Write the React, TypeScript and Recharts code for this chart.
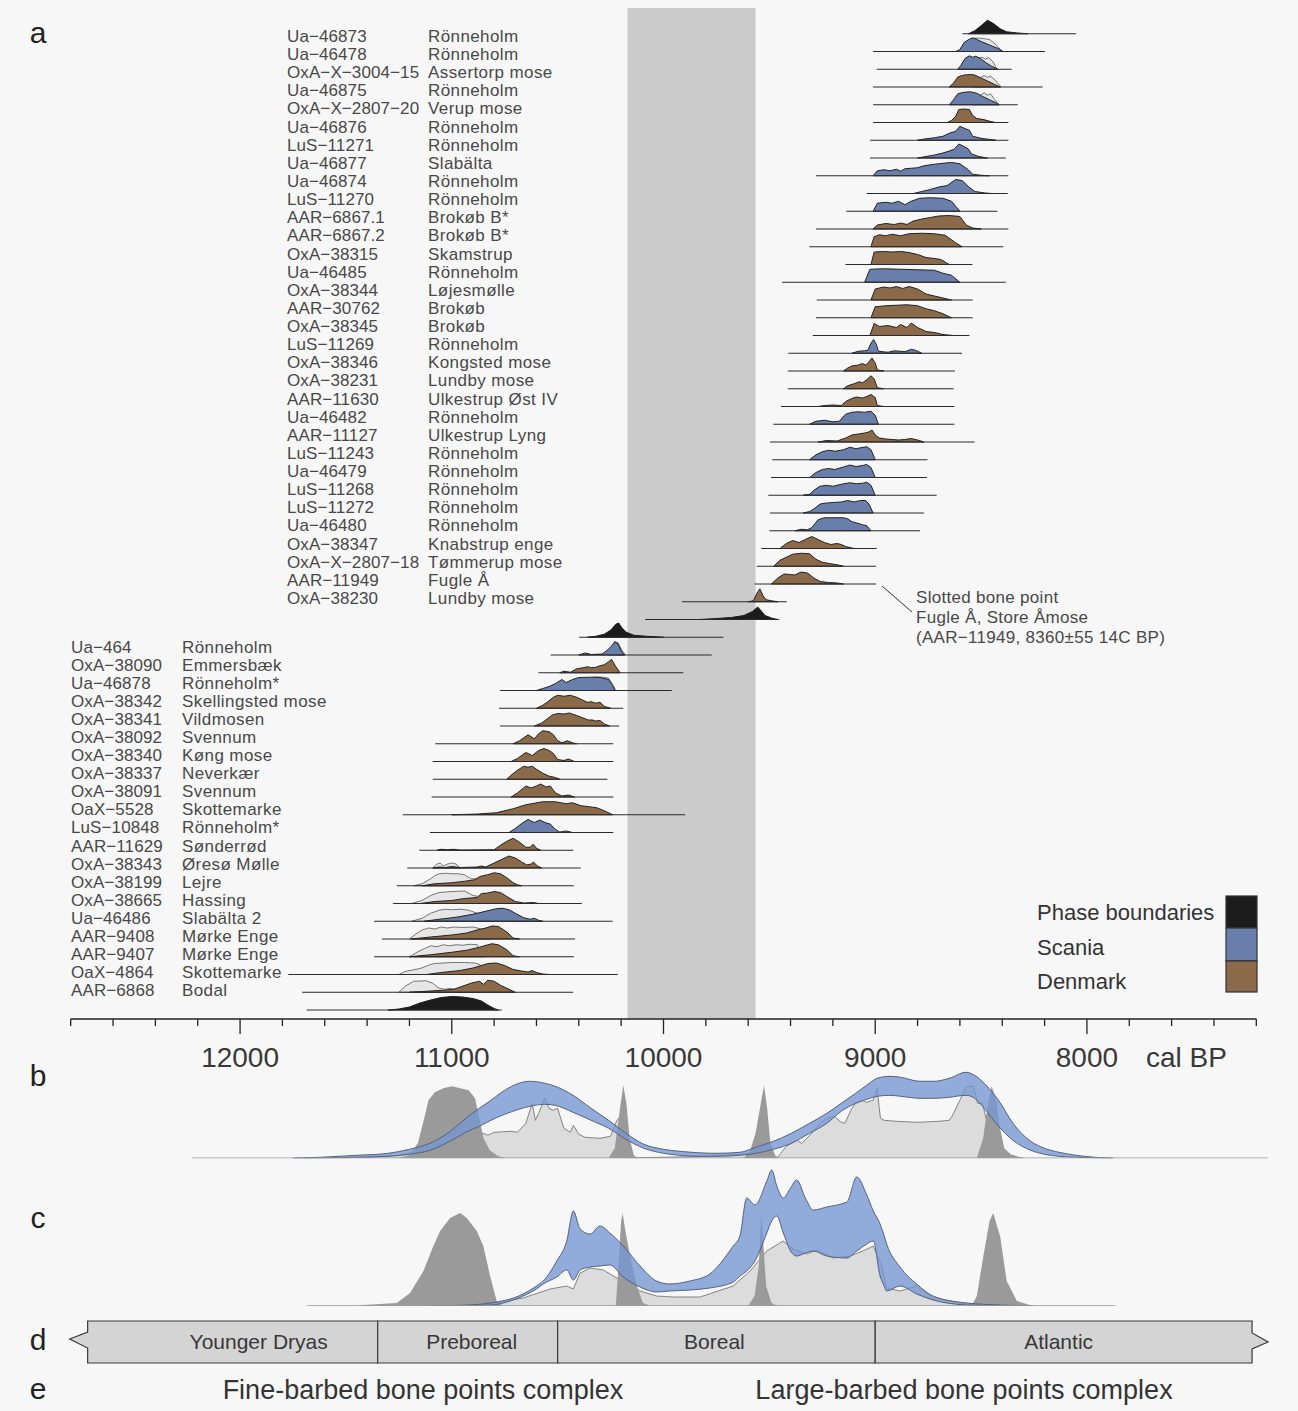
import React from "react";
import { ComposedChart, Area, Line, XAxis, YAxis, ReferenceArea } from "recharts";

type Pt = [number, number];

const FONT = "'Liberation Sans', Arial, sans-serif";

// ---------- panel a : modelled dates ----------
const rowCodes = [
  "", "Ua−46873", "Ua−46478", "OxA−X−3004−15", "Ua−46875", "OxA−X−2807−20", "Ua−46876", "LuS−11271",
  "Ua−46877", "Ua−46874", "LuS−11270", "AAR−6867.1", "AAR−6867.2", "OxA−38315", "Ua−46485", "OxA−38344",
  "AAR−30762", "OxA−38345", "LuS−11269", "OxA−38346", "OxA−38231", "AAR−11630", "Ua−46482", "AAR−11127",
  "LuS−11243", "Ua−46479", "LuS−11268", "LuS−11272", "Ua−46480", "OxA−38347", "OxA−X−2807−18", "AAR−11949",
  "OxA−38230", "", "", "Ua−464", "OxA−38090", "Ua−46878", "OxA−38342", "OxA−38341", "OxA−38092",
  "OxA−38340", "OxA−38337", "OxA−38091", "OaX−5528", "LuS−10848", "AAR−11629", "OxA−38343", "OxA−38199",
  "OxA−38665", "Ua−46486", "AAR−9408", "AAR−9407", "OaX−4864", "AAR−6868", "",
];

const rowSites = [
  "", "Rönneholm", "Rönneholm", "Assertorp mose", "Rönneholm", "Verup mose", "Rönneholm", "Rönneholm",
  "Slabälta", "Rönneholm", "Rönneholm", "Brokøb B*", "Brokøb B*", "Skamstrup", "Rönneholm", "Løjesmølle",
  "Brokøb", "Brokøb", "Rönneholm", "Kongsted mose", "Lundby mose", "Ulkestrup Øst IV", "Rönneholm", "Ulkestrup Lyng",
  "Rönneholm", "Rönneholm", "Rönneholm", "Rönneholm", "Rönneholm", "Knabstrup enge", "Tømmerup mose", "Fugle Å",
  "Lundby mose", "", "", "Rönneholm", "Emmersbæk", "Rönneholm*", "Skellingsted mose", "Vildmosen", "Svennum",
  "Køng mose", "Neverkær", "Svennum", "Skottemarke", "Rönneholm*", "Sønderrød", "Øresø Mølle", "Lejre",
  "Hassing", "Slabälta 2", "Mørke Enge", "Mørke Enge", "Skottemarke", "Bodal", "",
];

// B = phase boundary, S = Scania, D = Denmark
const rowRegion = "BSSDSDSSSSSDDDSDDDSDDDSDSSSSSDDDDBBSDSDDDDDDDSDDDDSDDDDB";

const rowSpan: Pt[] = [
  [8588, 8052], [9010, 8198], [8993, 8355], [9010, 8209], [9010, 8327], [9010, 8371], [9024, 8371], [9024, 8383],
  [9280, 8371], [9040, 8374], [9137, 8423], [9280, 8371], [9311, 8395], [9140, 8541], [9440, 8383], [9276, 8540],
  [9280, 8540], [9295, 8555], [9410, 8590], [9413, 8623], [9413, 8630], [9445, 8626], [9481, 8626], [9497, 8531],
  [9486, 8753], [9492, 8756], [9505, 8710], [9497, 8769], [9500, 8788], [9538, 8993], [9559, 8996], [9570, 8996],
  [9913, 9418], [10087, 9453], [10398, 9717], [10533, 9772], [10591, 9906], [10772, 9961], [10777, 10190], [10772, 10209],
  [11078, 10237], [11090, 10237], [11090, 10265], [11095, 10237], [11232, 9898], [11103, 10237], [11153, 10426], [11210, 10391],
  [11260, 10423], [11277, 10386], [11367, 10240], [11330, 10418], [11367, 10423], [11772, 10216], [11707, 10426], [11685, 10764],
];

const rowDensity: Pt[][] = [
  [[8560, 0], [8530, 3], [8500, 8], [8470, 13.5], [8440, 10], [8410, 5], [8380, 2], [8330, 0.8], [8280, 0]],
  [[8620, 0], [8600, 2], [8580, 9], [8550, 13], [8535, 13.5], [8500, 10], [8460, 6.5], [8420, 3], [8395, 0]],
  [[8610, 0], [8595, 4], [8575, 11], [8555, 13.4], [8540, 12], [8525, 13], [8505, 11], [8480, 7], [8450, 3], [8420, 0]],
  [[8650, 0], [8630, 4], [8610, 10], [8580, 12], [8550, 12.5], [8530, 12], [8500, 9], [8470, 6], [8440, 3], [8410, 0]],
  [[8650, 0], [8630, 5], [8610, 11], [8580, 12.5], [8550, 13], [8520, 11.5], [8490, 8], [8460, 5], [8430, 2], [8415, 0]],
  [[8660, 0], [8640, 2], [8620, 6], [8605, 13], [8580, 13.5], [8555, 13], [8540, 7], [8520, 4], [8490, 3], [8460, 1], [8430, 0]],
  [[8800, 0], [8760, 1.5], [8720, 2.5], [8680, 4], [8650, 7], [8620, 9], [8600, 14], [8580, 12], [8555, 10], [8540, 4], [8500, 2], [8450, 0.5], [8430, 0]],
  [[8800, 0], [8760, 1.5], [8720, 3], [8680, 5], [8650, 7], [8625, 9], [8605, 14], [8585, 12], [8560, 9], [8545, 4], [8510, 1.5], [8470, 0]],
  [[9010, 0], [8990, 5], [8960, 6], [8930, 5], [8900, 6.5], [8880, 4.5], [8860, 7], [8830, 7.5], [8800, 8], [8770, 10], [8720, 11.5], [8680, 12.5], [8640, 13.3], [8600, 12], [8560, 6], [8540, 1.5], [8500, 0.5], [8460, 0]],
  [[8820, 0], [8780, 2], [8740, 4], [8700, 6.5], [8660, 8], [8620, 14], [8590, 13], [8560, 7], [8530, 2], [8480, 0.5], [8450, 0]],
  [[9010, 0], [8990, 8], [8950, 9], [8920, 8], [8890, 10], [8860, 6.5], [8830, 10], [8790, 13], [8740, 13.5], [8680, 13], [8640, 10], [8600, 0]],
  [[9010, 0], [8990, 4], [8950, 5.5], [8910, 4.5], [8880, 6], [8850, 4.5], [8820, 8], [8780, 10], [8740, 11.5], [8700, 13], [8650, 13.5], [8600, 12.5], [8570, 4], [8540, 1], [8500, 0]],
  [[9020, 0], [9005, 10], [8980, 12], [8950, 11], [8920, 12.5], [8880, 11], [8840, 13], [8780, 13.5], [8720, 13], [8670, 11.5], [8620, 4], [8590, 0]],
  [[9020, 0], [9005, 12.5], [8960, 13], [8920, 12.5], [8880, 13], [8840, 12], [8800, 10], [8760, 7], [8720, 6], [8690, 5], [8650, 0]],
  [[9050, 0], [9025, 13], [8960, 13.5], [8880, 13], [8800, 12.5], [8720, 12], [8680, 9], [8640, 7], [8600, 0]],
  [[9020, 0], [9000, 11], [8960, 13], [8930, 12], [8900, 13.5], [8870, 11.5], [8840, 13.5], [8800, 11], [8760, 6], [8720, 4], [8680, 2], [8640, 0]],
  [[9020, 0], [9000, 11], [8950, 12], [8900, 12.5], [8850, 13], [8800, 12], [8760, 9], [8720, 7], [8680, 4], [8640, 0]],
  [[9025, 0], [9005, 12], [8980, 9], [8940, 10], [8900, 8], [8880, 11], [8850, 8], [8830, 12.5], [8800, 8], [8760, 4], [8720, 3], [8680, 1], [8630, 0]],
  [[9110, 0], [9080, 2], [9050, 2.5], [9035, 3], [9020, 10], [9008, 13.7], [8995, 9], [8985, 2], [8940, 1], [8910, 2.5], [8880, 2], [8860, 1.5], [8830, 4], [8810, 3], [8780, 0]],
  [[9150, 0], [9130, 3], [9110, 5], [9080, 6], [9060, 7.5], [9045, 6], [9030, 9], [9015, 13], [9000, 8], [8990, 1], [8960, 0]],
  [[9150, 0], [9130, 3], [9100, 5], [9075, 7], [9060, 6], [9040, 9], [9020, 13], [9005, 10], [8990, 1], [8960, 0]],
  [[9270, 0], [9240, 1], [9200, 1.5], [9160, 1], [9140, 5], [9110, 8], [9090, 9.5], [9060, 8.5], [9040, 10], [9020, 12], [9000, 9], [8990, 1], [8960, 0]],
  [[9310, 0], [9280, 3], [9240, 4], [9200, 2.5], [9170, 3], [9140, 10], [9110, 12], [9080, 12.5], [9050, 12], [9020, 13], [9000, 9], [8985, 0]],
  [[9270, 0], [9230, 1.5], [9180, 1], [9140, 4], [9110, 7], [9080, 8], [9050, 9], [9030, 10], [9015, 12], [9000, 7], [8980, 4], [8950, 3], [8920, 2.5], [8890, 2], [8860, 2.5], [8830, 3.5], [8800, 2], [8770, 0]],
  [[9310, 0], [9280, 5], [9250, 8], [9220, 9.5], [9190, 8.5], [9150, 10], [9120, 12.5], [9090, 11], [9070, 12], [9040, 13], [9020, 10], [9000, 0]],
  [[9310, 0], [9280, 5], [9250, 8], [9220, 9], [9190, 8], [9150, 10.5], [9120, 12.5], [9090, 11], [9060, 12], [9040, 13], [9020, 10], [9000, 0]],
  [[9340, 0], [9310, 1], [9290, 5], [9260, 9], [9230, 10], [9200, 9], [9160, 11], [9120, 12.5], [9090, 11.5], [9060, 12], [9040, 13], [9020, 10], [9000, 0]],
  [[9340, 0], [9310, 1.5], [9290, 4], [9260, 9], [9230, 10], [9200, 10.5], [9160, 11], [9130, 12.5], [9100, 11], [9070, 12.5], [9045, 12.5], [9030, 9], [9010, 0]],
  [[9380, 0], [9350, 1.5], [9320, 1], [9300, 3], [9270, 11], [9240, 13], [9200, 13], [9150, 13], [9130, 12], [9110, 9], [9090, 8], [9060, 6], [9040, 5], [9020, 0]],
  [[9450, 0], [9420, 5], [9390, 8], [9360, 6], [9330, 9], [9300, 12], [9270, 9], [9240, 6], [9210, 4], [9180, 5], [9160, 4], [9140, 2], [9100, 0]],
  [[9480, 0], [9450, 6], [9420, 9], [9390, 12], [9350, 13], [9310, 12.5], [9280, 7], [9250, 4], [9210, 2.5], [9180, 1.5], [9150, 0]],
  [[9490, 0], [9460, 6], [9430, 10], [9400, 9.5], [9380, 9], [9350, 12], [9320, 11], [9290, 6], [9260, 2.5], [9220, 1.5], [9180, 1], [9150, 0]],
  [[9600, 0], [9575, 1], [9560, 8], [9545, 13], [9530, 6], [9515, 2], [9490, 1], [9460, 0]],
  [[9830, 0], [9750, 1], [9680, 2], [9620, 4], [9580, 8], [9555, 12.5], [9540, 9], [9520, 4], [9490, 1.5], [9460, 0]],
  [[10360, 0], [10320, 1], [10280, 3], [10250, 7], [10225, 13], [10212, 14.3], [10195, 9], [10175, 5], [10140, 2], [10080, 1], [10000, 0]],
  [[10400, 0], [10370, 2], [10340, 0.5], [10290, 1], [10270, 4], [10245, 9], [10230, 13.3], [10215, 11], [10200, 4], [10185, 0]],
  [[10490, 0], [10470, 1.5], [10440, 0.5], [10410, 4], [10380, 5], [10360, 6], [10340, 5], [10320, 5.5], [10300, 7], [10280, 8], [10260, 11], [10245, 13.3], [10225, 6], [10205, 0]],
  [[10600, 0], [10570, 2], [10540, 4], [10510, 7], [10480, 11], [10460, 8], [10430, 11], [10400, 13], [10340, 13.3], [10300, 13], [10260, 11], [10240, 5], [10230, 0]],
  [[10600, 0], [10570, 3], [10550, 6], [10520, 11], [10500, 13], [10470, 12], [10440, 13], [10410, 11], [10380, 8], [10360, 6], [10340, 6.5], [10320, 5], [10300, 6], [10280, 2], [10250, 0]],
  [[10610, 0], [10575, 3], [10550, 7], [10525, 11], [10500, 12.5], [10470, 12], [10445, 13], [10410, 10.5], [10380, 8], [10355, 6], [10335, 6], [10320, 5], [10300, 5.5], [10280, 2], [10255, 0]],
  [[10710, 0], [10680, 3], [10640, 9], [10610, 5], [10590, 10], [10570, 13], [10540, 12], [10520, 9], [10500, 3], [10480, 1], [10455, 3], [10430, 1], [10410, 0]],
  [[10720, 0], [10690, 3], [10650, 9], [10620, 6], [10590, 11], [10565, 13], [10540, 11], [10520, 8], [10500, 2], [10470, 1], [10450, 2.5], [10420, 0]],
  [[10740, 0], [10720, 4], [10690, 9], [10660, 13], [10640, 12], [10620, 13], [10600, 10], [10570, 6], [10540, 3], [10515, 2], [10490, 0]],
  [[10720, 0], [10690, 4], [10650, 11], [10625, 9], [10600, 11], [10580, 13], [10555, 10], [10535, 11], [10510, 4], [10480, 1], [10450, 2], [10420, 0]],
  [[11000, 0], [10880, 0.7], [10790, 2], [10710, 6], [10650, 10], [10570, 13], [10510, 13], [10460, 11], [10430, 12], [10390, 9], [10350, 8], [10315, 7], [10280, 4], [10240, 0]],
  [[10730, 0], [10700, 4], [10670, 9], [10640, 13], [10610, 10], [10585, 12.5], [10560, 10], [10535, 8.5], [10510, 3], [10490, 0.5], [10460, 1.5], [10430, 0]],
  [[11070, 0], [11050, 1], [11020, 0.5], [10990, 1], [10960, 0], [10800, 0.5], [10770, 5], [10740, 9], [10710, 12], [10680, 8], [10650, 3], [10630, 3], [10615, 6], [10600, 2], [10580, 0]],
  [[11090, 0], [11060, 1], [11030, 0.5], [11000, 1.5], [10960, 0.5], [10880, 1], [10860, 2], [10840, 1], [10800, 5], [10760, 9], [10730, 12], [10700, 10], [10670, 6], [10645, 3], [10625, 4], [10615, 6], [10595, 2], [10575, 0]],
  [[11140, 0], [11080, 2], [11000, 3], [10940, 4.5], [10890, 6], [10870, 9], [10855, 10], [10830, 11], [10800, 13], [10770, 12], [10740, 8], [10710, 3], [10690, 1], [10670, 0]],
  [[11150, 0], [11080, 2], [11000, 3], [10940, 5], [10880, 6], [10860, 10], [10830, 10.5], [10800, 12], [10770, 11], [10740, 7], [10700, 2], [10660, 0.5], [10615, 1], [10590, 0]],
  [[11130, 0], [11060, 2], [10980, 4], [10900, 7], [10840, 10], [10790, 12.5], [10760, 13], [10730, 11.5], [10700, 8], [10660, 3.5], [10630, 2], [10610, 3], [10590, 1], [10570, 0]],
  [[11190, 0], [11100, 2], [11000, 4], [10930, 6], [10880, 9], [10840, 11], [10810, 13], [10780, 12.5], [10740, 7], [10710, 1], [10680, 0]],
  [[11200, 0], [11100, 2], [11000, 4.5], [10930, 6.5], [10870, 9.5], [10830, 12], [10810, 13], [10780, 12], [10740, 7], [10710, 1], [10680, 0]],
  [[11120, 0], [11050, 2], [10960, 4], [10900, 6.5], [10860, 9], [10830, 11], [10790, 11.5], [10750, 9], [10710, 5], [10670, 3.5], [10640, 2.5], [10620, 4], [10600, 2], [10570, 0.5], [10540, 0]],
  [[11200, 0], [11120, 1], [11040, 2], [10990, 3], [10950, 6], [10910, 9], [10890, 10], [10870, 11], [10850, 8], [10830, 12], [10800, 11], [10770, 7], [10730, 3], [10700, 0]],
  [[11300, 0], [11250, 1], [11200, 3], [11150, 7], [11100, 10], [11050, 12.5], [11000, 13.5], [10950, 13], [10900, 11.5], [10860, 9], [10830, 5], [10800, 1.5], [10780, 0]],
];

// unmodelled (prior) distributions shown in light grey behind some rows
const rowUnmodelled: Record<number, Pt[]> = {
  1: [[8570, 0], [8545, 13], [8520, 13.5], [8490, 13], [8460, 12], [8430, 7], [8400, 0]],
  2: [[8540, 0], [8510, 11], [8495, 12], [8480, 10], [8465, 11.5], [8445, 8], [8425, 0]],
  3: [[8540, 0], [8500, 10], [8485, 11.5], [8470, 9.5], [8455, 11], [8430, 6], [8405, 0]],
  4: [[8540, 0], [8500, 10], [8485, 12], [8470, 9.5], [8455, 11], [8435, 5], [8415, 0]],
  5: [[8520, 0], [8500, 3], [8480, 2.5], [8460, 1.5], [8440, 0]],
  35: [[10260, 0], [10232, 13], [10215, 12.5], [10200, 6], [10180, 0]],
  37: [[10360, 0], [10330, 13.6], [10290, 13.4], [10260, 12.5], [10240, 6], [10225, 0]],
  47: [[11090, 0], [11070, 4], [11055, 5], [11040, 2], [11020, 4], [11000, 5], [10980, 4], [10960, 0]],
  48: [[11180, 0], [11140, 2], [11100, 7], [11080, 10], [11060, 12], [11030, 12.5], [11000, 12], [10970, 12], [10940, 11], [10910, 7], [10880, 7], [10820, 6], [10760, 3], [10700, 0]],
  49: [[11190, 0], [11140, 3], [11100, 8], [11060, 11], [11000, 12], [10940, 12.5], [10900, 8], [10870, 7], [10800, 5], [10740, 2], [10700, 0]],
  50: [[11190, 0], [11140, 3], [11100, 8], [11060, 11], [11030, 12], [11000, 11.5], [10960, 12], [10920, 11], [10880, 8], [10840, 6], [10780, 3], [10740, 0]],
  51: [[11200, 0], [11170, 5], [11140, 9], [11110, 11], [11080, 10], [11050, 12], [11020, 11], [10990, 12], [10950, 11.5], [10900, 12], [10860, 10], [10820, 0]],
  52: [[11200, 0], [11160, 5], [11130, 8], [11100, 11], [11070, 10], [11040, 12], [11010, 11], [10980, 12], [10950, 11.5], [10910, 12.5], [10880, 12], [10850, 0]],
  53: [[11250, 0], [11220, 3], [11150, 6], [11100, 10], [11080, 11], [11000, 12], [10940, 12], [10890, 11.5], [10860, 9], [10800, 0]],
  54: [[11250, 0], [11220, 6], [11180, 11], [11120, 11.5], [11090, 9], [11060, 4], [11030, 3], [11010, 4], [10990, 3], [10960, 3.5], [10920, 2], [10860, 0]],
};

const greyBand: Pt = [10170, 9565];
const xTicks = [12800, 12600, 12400, 12200, 12000, 11800, 11600, 11400, 11200, 11000, 10800, 10600, 10400, 10200,
  10000, 9800, 9600, 9400, 9200, 9000, 8800, 8600, 8400, 8200, 8000, 7800, 7600, 7400, 7200];

// ---------- panel b ----------
const bPhase: Pt[] = [
  [11260, 0], [11200, 3], [11160, 15], [11130, 40], [11110, 58], [11080, 66], [11040, 70], [11000, 72], [10960, 70],
  [10920, 68], [10890, 60], [10870, 40], [10850, 20], [10820, 8], [10780, 2], [10740, 0],
  [10260, 0], [10230, 10], [10205, 50], [10190, 73], [10175, 55], [10160, 20], [10140, 3], [10120, 0],
  [9620, 0], [9590, 8], [9565, 25], [9540, 55], [9525, 73], [9510, 50], [9495, 15], [9470, 2], [9450, 0],
  [8520, 0], [8490, 20], [8470, 50], [8450, 72], [8430, 60], [8410, 30], [8390, 10], [8360, 4], [8300, 0],
];
const bSum: Pt[] = [
  [11700, 0], [11400, 1], [11250, 3], [11150, 8], [11050, 14], [10950, 20], [10880, 22], [10850, 25], [10830, 23],
  [10800, 26], [10720, 27], [10690, 26], [10650, 35], [10620, 55], [10605, 38], [10590, 45], [10560, 60], [10540, 50],
  [10520, 48], [10500, 50], [10470, 30], [10440, 26], [10425, 33], [10400, 24], [10370, 21], [10300, 20], [10250, 22],
  [10220, 38], [10210, 40], [10195, 25], [10180, 3], [10160, 0.5], [10000, 1], [9800, 2], [9650, 4], [9580, 5],
  [9540, 20], [9525, 45], [9510, 15], [9490, 2], [9460, 1], [9420, 12], [9396, 15], [9370, 18], [9346, 15],
  [9300, 25], [9260, 35], [9228, 40], [9193, 42], [9160, 36], [9143, 35], [9110, 50], [9092, 55], [9060, 58],
  [9041, 56], [9010, 58], [8991, 70], [8975, 40], [8957, 38], [8900, 37], [8800, 36], [8700, 37], [8650, 38],
  [8637, 42], [8602, 57], [8569, 72], [8535, 72], [8515, 55], [8493, 55], [8476, 40], [8460, 50], [8440, 35],
  [8417, 20], [8400, 8], [8366, 2], [8300, 0],
];
// [year, lower, upper]
const bBand: [number, number, number][] = [
  [11750, 0, 0], [11600, 0.3, 1.2], [11450, 1, 3], [11300, 2, 5], [11200, 4, 9], [11103, 8, 15], [11000, 18, 28],
  [10933, 26, 40], [10870, 32, 50], [10815, 38, 58], [10750, 44, 68], [10683, 49, 75], [10631, 52, 77], [10560, 54, 75],
  [10512, 53, 72], [10427, 46, 63], [10342, 38, 50], [10259, 30, 38], [10177, 19, 25], [10092, 10, 14], [10000, 5, 9],
  [9922, 3, 7], [9830, 2, 5.5], [9752, 2, 5], [9639, 3, 6], [9564, 5, 11], [9480, 9, 17], [9396, 15, 25], [9310, 25, 35],
  [9228, 35, 45], [9160, 47, 55], [9092, 55, 65], [9040, 59, 73], [8991, 62, 80], [8930, 63, 82], [8880, 62, 81],
  [8788, 60, 77], [8720, 60, 77], [8650, 61, 80], [8571, 63, 86], [8530, 60, 83], [8485, 50, 75], [8417, 32, 58],
  [8349, 18, 35], [8265, 8, 17], [8200, 4, 10], [8131, 2, 6], [8050, 1, 3], [7961, 0.3, 1], [7876, 0, 0],
];
const bBaseSpan: Pt = [12227, 7145];

// ---------- panel c ----------
const cPhase: Pt[] = [
  [11450, 0], [11418, 1], [11260, 3], [11197, 13], [11134, 35], [11087, 60], [11055, 75], [11008, 88], [10961, 93],
  [10929, 88], [10882, 75], [10851, 60], [10819, 30], [10788, 5], [10758, 0],
  [10225, 0], [10213, 40], [10200, 85], [10193, 93], [10180, 75], [10158, 50], [10126, 20], [10097, 3], [10060, 0],
  [9600, 0], [9570, 10], [9550, 40], [9538, 93], [9528, 60], [9515, 20], [9490, 3], [9460, 0],
  [8545, 0], [8520, 10], [8489, 50], [8460, 85], [8442, 93], [8425, 80], [8410, 70], [8379, 25], [8331, 5], [8254, 0],
];
const cSum: Pt[] = [
  [11300, 0], [11089, 0.5], [10819, 2], [10663, 8], [10536, 17], [10457, 20], [10426, 17], [10394, 33], [10347, 38],
  [10284, 36], [10190, 24], [10111, 15], [10033, 10], [9954, 9], [9827, 9], [9671, 20], [9591, 35], [9512, 55],
  [9435, 65], [9388, 57], [9323, 52], [9276, 56], [9199, 48], [9119, 50], [9058, 55], [9009, 60], [8969, 40],
  [8946, 18], [8883, 15], [8804, 20], [8727, 8], [8646, 5], [8568, 2], [8410, 0.5], [8300, 0],
];
const cBand: [number, number, number][] = [
  [11100, 0, 0], [10977, 0.2, 0.5], [10819, 1, 3], [10663, 10, 12], [10600, 17, 20], [10568, 22, 25], [10504, 29, 45],
  [10457, 36, 65], [10426, 26, 95], [10394, 36, 77], [10347, 39, 72], [10300, 40, 80], [10253, 41, 73], [10190, 29, 60],
  [10111, 19, 40], [10033, 14, 25], [9971, 15, 22], [9875, 16, 25], [9781, 18, 32], [9671, 24, 60], [9639, 30, 70],
  [9607, 35, 108], [9568, 45, 101], [9512, 73, 125], [9489, 85, 136], [9465, 90, 120], [9434, 73, 108], [9400, 55, 118],
  [9371, 50, 126], [9330, 53, 108], [9292, 55, 96], [9229, 50, 99], [9134, 48, 104], [9087, 55, 129], [9040, 62, 111],
  [9009, 65, 95], [8977, 30, 82], [8962, 22, 73], [8946, 15, 62], [8883, 20, 39], [8804, 12, 22], [8727, 6, 10],
  [8568, 1, 3], [8410, 0, 1], [8254, 0, 0],
];
const cBaseSpan: Pt = [11685, 7865];

// ---------- panels d, e ----------
const periodNames = ["Younger Dryas", "Preboreal", "Boreal", "Atlantic"];
const periodBounds = [12720, 11350, 10500, 9000, 7220];
const complexNames = ["Fine-barbed bone points complex", "Large-barbed bone points complex"];
const legendNames = ["Phase boundaries", "Scania", "Denmark"];

const FILLS: Record<string, string> = { B: "#1c1c1c", S: "#6a7eab", D: "#8b6a49" };
const ROW_STEP = 17.75;

const toRange = (pts: Pt[], base: number) => pts.map(([year, h]) => ({ year, r: [base, base + h] }));
const toVal = (pts: Pt[]) => pts.map(([year, v]) => ({ year, v }));
const toBand = (pts: [number, number, number][]) => pts.map(([year, lo, hi]) => ({ year, r: [lo, hi] }));

const AxisTick = (props: any) => {
  const { x, y, payload } = props;
  const v = payload.value as number;
  const major = v % 1000 === 0;
  return (
    <g>
      <line x1={x} x2={x} y1={y} y2={y + (major ? 15 : 7)} stroke="#222" strokeWidth={1.3} />
      {major && (
        <text x={x} y={y + 48} textAnchor="middle" fontSize={28} fill="#383838" fontFamily={FONT}>
          {v}
        </text>
      )}
      {v === 8000 && (
        <text x={x + 59} y={y + 48} textAnchor="start" fontSize={28} fill="#383838" fontFamily={FONT}>
          cal BP
        </text>
      )}
    </g>
  );
};

function ChartA() {
  return (
    <ComposedChart width={1298} height={1085} margin={{ top: 8, right: 41.7, bottom: 6, left: 70.7 }}>
      <XAxis
        type="number"
        dataKey="year"
        domain={[7200, 12800]}
        reversed
        allowDataOverflow
        ticks={xTicks}
        interval={0}
        tick={<AxisTick />}
        tickLine={false}
        tickSize={0}
        tickMargin={0}
        height={60}
        axisLine={{ stroke: "#222", strokeWidth: 1.3 }}
      />
      <YAxis type="number" hide width={0} domain={[-9, 1002]} allowDataOverflow />
      <ReferenceArea x1={greyBand[0]} x2={greyBand[1]} fill="#cbcbcb" fillOpacity={1} stroke="none" />
      {rowDensity.map((pts, k) => {
        const base = (55 - k) * ROW_STEP;
        const reg = rowRegion[k];
        const items = [
          <Line
            key={`l${k}`}
            data={[{ year: rowSpan[k][0], v: base }, { year: rowSpan[k][1], v: base }]}
            dataKey="v"
            stroke="#2a2a2a"
            strokeWidth={1}
            dot={false}
            activeDot={false}
            isAnimationActive={false}
          />,
        ];
        if (rowUnmodelled[k]) {
          items.push(
            <Area
              key={`u${k}`}
              data={toRange(rowUnmodelled[k], base)}
              dataKey="r"
              type="linear"
              fill="#e6e6e6"
              fillOpacity={1}
              stroke="#555"
              strokeWidth={0.8}
              dot={false}
              activeDot={false}
              isAnimationActive={false}
            />
          );
        }
        items.push(
          <Area
            key={`a${k}`}
            data={toRange(pts, base)}
            dataKey="r"
            type="linear"
            fill={FILLS[reg]}
            fillOpacity={1}
            stroke={reg === "B" ? FILLS.B : "#222"}
            strokeWidth={1}
            dot={false}
            activeDot={false}
            isAnimationActive={false}
          />
        );
        return items;
      })}
    </ComposedChart>
  );
}

function SumChart(props: {
  phase: Pt[];
  sum: Pt[];
  band: [number, number, number][];
  span: Pt;
  domain: [number, number];
  yMax: number;
  height: number;
  top: number;
  right: number;
}) {
  const { phase, sum, band, span, domain, yMax, height, top, right } = props;
  return (
    <ComposedChart width={1298} height={height} margin={{ top, right, bottom: height - top - yMax, left: 70.7 }}>
      <XAxis type="number" dataKey="year" domain={domain} reversed allowDataOverflow hide height={0} />
      <YAxis type="number" hide width={0} domain={[0, yMax]} allowDataOverflow />
      <Line
        data={[{ year: span[0], v: 0 }, { year: span[1], v: 0 }]}
        dataKey="v"
        stroke="#9a9a9a"
        strokeWidth={1.5}
        dot={false}
        activeDot={false}
        isAnimationActive={false}
      />
      <Area
        data={toVal(sum)}
        dataKey="v"
        type="linear"
        baseValue={0}
        fill="#dcdcdc"
        fillOpacity={1}
        stroke="#6a6a6a"
        strokeWidth={0.8}
        dot={false}
        activeDot={false}
        isAnimationActive={false}
      />
      <Area
        data={toVal(phase)}
        dataKey="v"
        type="linear"
        baseValue={0}
        fill="#9a9a9a"
        fillOpacity={1}
        stroke="none"
        dot={false}
        activeDot={false}
        isAnimationActive={false}
      />
      <Area
        data={toBand(band)}
        dataKey="r"
        type="monotone"
        fill="#7596d4"
        fillOpacity={0.78}
        stroke="#55627e"
        strokeWidth={1}
        dot={false}
        activeDot={false}
        isAnimationActive={false}
      />
    </ComposedChart>
  );
}

const PeriodShape = (props: any) => {
  const { x, y, width, height, index, name } = props;
  const x0 = x;
  const x1 = x + width;
  const y0 = y;
  const y1 = y + height;
  const last = index === periodNames.length - 1;
  let d = "";
  if (index === 0) {
    d = `M${x0},${y0} L${x1},${y0} L${x1},${y1} L${x0},${y1} L${x0},${y0 + 27} L${x0 - 18},${y0 + 18} L${x0},${y0 + 11} Z`;
  } else if (last) {
    d = `M${x0},${y0} L${x1},${y0} L${x1},${y0 + 12} L${x1 + 16},${y0 + 21} L${x1},${y0 + 28} L${x1},${y1} L${x0},${y1} Z`;
  } else {
    d = `M${x0},${y0} L${x1},${y0} L${x1},${y1} L${x0},${y1} Z`;
  }
  const shift = [26, 4, -2, -5][index];
  const cx = x0 + width / 2 + shift;
  return (
    <g>
      <path d={d} fill="#d4d4d4" stroke="#3a3a3a" strokeWidth={1.2} />
      <text x={cx} y={y0 + height / 2} dy="0.35em" textAnchor="middle" fontSize={21} fill="#383838" fontFamily={FONT}>
        {name}
      </text>
    </g>
  );
};

function ChartD() {
  return (
    <ComposedChart width={1298} height={60} margin={{ top: 11, right: 41.7, bottom: 7, left: 70.7 }}>
      <XAxis type="number" dataKey="year" domain={[7200, 12800]} reversed allowDataOverflow hide height={0} />
      <YAxis type="number" hide width={0} domain={[0, 1]} allowDataOverflow />
      <Line
        data={periodBounds.map((year) => ({ year, v: 0 }))}
        dataKey="v"
        stroke="none"
        dot={false}
        activeDot={false}
        isAnimationActive={false}
      />
      {periodNames.map((name, i) => (
        <ReferenceArea
          key={name}
          x1={periodBounds[i]}
          x2={periodBounds[i + 1]}
          y1={0}
          y2={1}
          ifOverflow="visible"
          shape={(p: any) => <PeriodShape {...p} index={i} name={name} />}
        />
      ))}
    </ComposedChart>
  );
}

function Overlay() {
  const txt = "#484848";
  const legendColors = [FILLS.B, FILLS.S, FILLS.D];
  return (
    <svg
      width={1298}
      height={1411}
      style={{ position: "absolute", left: 0, top: 0, pointerEvents: "none" }}
      fontFamily={FONT}
    >
      {[["a", 32], ["b", 1075], ["c", 1217], ["d", 1339], ["e", 1388]].map(([l, y]) => (
        <text key={l as string} x={38} y={y as number} dy="0.35em" textAnchor="middle" fontSize={30} fill="#222">
          {l}
        </text>
      ))}
      {rowCodes.map((code, k) => {
        if (!code) return null;
        const upper = k <= 32;
        const cy = upper ? 36 + 18.13 * (k - 1) : 647 + 18.05 * (k - 35);
        return (
          <g key={k} fontSize={17} fill={txt}>
            <text x={upper ? 287 : 71} y={cy} dy="0.35em" letterSpacing={0.1}>
              {code}
            </text>
            <text x={upper ? 428 : 182} y={cy} dy="0.35em" letterSpacing={0.4}>
              {rowSites[k]}
            </text>
          </g>
        );
      })}
      <line x1={882} y1={586} x2={912} y2={612} stroke="#333" strokeWidth={1} />
      <g fontSize={17} fill={txt} letterSpacing={0.3}>
        <text x={916} y={597} dy="0.35em">Slotted bone point</text>
        <text x={916} y={617} dy="0.35em">Fugle Å, Store Åmose</text>
        <text x={916} y={637} dy="0.35em">(AAR−11949, 8360±55 14C BP)</text>
      </g>
      {legendNames.map((n, i) => (
        <g key={n}>
          <text x={1037} y={[912, 947, 981][i]} dy="0.35em" fontSize={22} fill="#333">
            {n}
          </text>
          <rect
            x={1226}
            y={[896, 928, 961][i]}
            width={31}
            height={[32, 33, 31][i]}
            fill={legendColors[i]}
            stroke="#333"
            strokeWidth={1.2}
          />
        </g>
      ))}
      {complexNames.map((n, i) => (
        <text key={n} x={[423, 964][i]} y={1390} dy="0.35em" textAnchor="middle" fontSize={27} fill="#333">
          {n}
        </text>
      ))}
    </svg>
  );
}

export default function App() {
  return (
    <div
      style={{
        position: "absolute",
        left: 0,
        top: 0,
        width: 1298,
        height: 1411,
        background: "#f7f7f7",
        overflow: "hidden",
        fontFamily: FONT,
      }}
    >
      <div style={{ position: "absolute", left: 0, top: 0 }}>
        <ChartA />
      </div>
      <div style={{ position: "absolute", left: 0, top: 1060 }}>
        <SumChart phase={bPhase} sum={bSum} band={bBand} span={bBaseSpan} domain={[7140, 12800]} yMax={90} height={110} top={8.3} right={29.1} />
      </div>
      <div style={{ position: "absolute", left: 0, top: 1160 }}>
        <SumChart phase={cPhase} sum={cSum} band={cBand} span={cBaseSpan} domain={[7200, 12800]} yMax={140} height={155} top={6} right={41.7} />
      </div>
      <div style={{ position: "absolute", left: 0, top: 1310 }}>
        <ChartD />
      </div>
      <Overlay />
    </div>
  );
}
